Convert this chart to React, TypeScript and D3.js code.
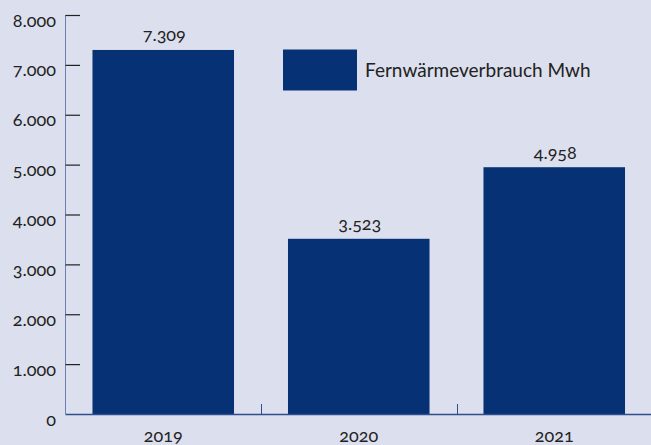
import React from "react";
import * as d3 from "d3";

const years: string[] = ["2019", "2020", "2021"];
const values: number[] = [7309, 3523, 4958];
const yTicks: number[] = [0, 1000, 2000, 3000, 4000, 5000, 6000, 7000, 8000];
const seriesName = "Fernwärmeverbrauch Mwh";

const W = 651;
const H = 445;
const BG = "#dcdfed";
const BAR = "#063174";
const FONT = "Lato, 'Open Sans', sans-serif";
const NUM = 18;

const fmt = (v: number) => d3.format(",")(v).replace(/,/g, ".");

export default function App() {
  const axisX = 65.5;
  const y = d3.scaleLinear().domain([0, 8000]).range([414.5, 15.5]);
  const x = d3
    .scaleBand<string>()
    .domain(years)
    .range([axisX, axisX + 586.5])
    .paddingInner(0.276)
    .paddingOuter(0.138);
  const step = x.step();
  const base = y(0);

  return (
    <svg
      width={W}
      height={H}
      style={{
        position: "absolute",
        left: 0,
        top: 0,
        fontFamily: FONT,
        fontWeight: 400,
        fontVariantNumeric: "oldstyle-nums",
      }}
    >
      <rect x={0} y={0} width={W} height={H} fill={BG} />
      {years.map((yr, i) => {
        const bx = x(yr)!;
        const bw = x.bandwidth();
        const top = y(values[i]);
        return (
          <g key={yr}>
            <rect x={bx} y={top} width={bw} height={base - top} fill={BAR} />
            <text x={bx + bw / 2 + 1} y={top - 8.5} textAnchor="middle" fontSize={NUM} fill="#222">
              {fmt(values[i])}
            </text>
            <text x={bx + bw / 2} y={441.5} textAnchor="middle" fontSize={NUM} fill="#222">
              {yr}
            </text>
          </g>
        );
      })}
      {/* x axis baseline */}
      <line x1={axisX} x2={W} y1={base} y2={base} stroke="#2e4e8e" strokeWidth={1.5} />
      {years.slice(1).map((yr) => {
        const tx = Math.round(x(yr)! - (x.paddingInner() * step) / 2) + 0.5;
        return <line key={"xt" + yr} x1={tx} x2={tx} y1={404} y2={base} stroke="#2e4e8e" strokeWidth={1} />;
      })}
      {/* y axis */}
      <line x1={axisX} x2={axisX} y1={15} y2={base} stroke="#6d7fb0" strokeWidth={1} />
      {yTicks.map((t) => {
        const ty = y(t);
        return (
          <g key={"yt" + t}>
            {t > 0 && <line x1={axisX} x2={80} y1={ty} y2={ty} stroke="#222" strokeWidth={1.2} />}
            <text x={56} y={ty + 11} textAnchor="end" fontSize={NUM} fill="#222">
              {fmt(t)}
            </text>
          </g>
        );
      })}
      {/* legend */}
      <rect x={283} y={49.5} width={74} height={41} fill={BAR} />
      <text x={365} y={77} fontSize={19} fill="#222">
        {seriesName}
      </text>
    </svg>
  );
}
